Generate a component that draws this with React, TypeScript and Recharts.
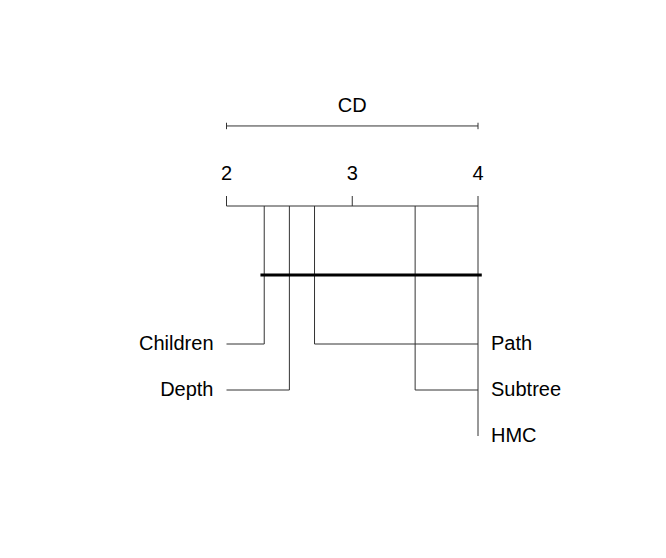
import { ComposedChart, ReferenceLine, XAxis, YAxis } from "recharts";

// average ranks of each method (critical difference diagram)
const methods = ["Children", "Depth", "Path", "Subtree", "HMC"];
const avgRanks = [2.3, 2.5, 2.7, 3.5, 4.0];
const sides = ["left", "left", "right", "right", "right"];
const rows = [1, 2, 1, 2, 3];
const rankTicks = [2, 3, 4];
const cdValue = 2.0;
// groups of methods that are not significantly different (index ranges)
const cliques = [[0, 4]];

const LINE = "#333";
const FONT = 20;
const CD_ROW = -1.74;

export default function App() {
  const lo = rankTicks[0];
  const hi = rankTicks[rankTicks.length - 1];

  return (
    <div style={{ fontFamily: '"Liberation Sans", Arial, sans-serif' }}>
      <ComposedChart
        width={650}
        height={540}
        data={[]}
        margin={{ top: 158, right: 180, bottom: 112, left: 218.5 }}
      >
        <XAxis
          type="number"
          dataKey="x"
          orientation="top"
          domain={[lo, hi]}
          ticks={rankTicks}
          interval={0}
          allowDataOverflow
          height={40}
          tickSize={10}
          tickMargin={16}
          stroke={LINE}
          tick={{ fill: "#000", fontSize: FONT }}
        />
        <YAxis type="number" dataKey="y" domain={[0, 5]} reversed hide width={0} allowDataOverflow />

        {/* CD bar */}
        <ReferenceLine
          segment={[
            { x: lo, y: CD_ROW },
            { x: lo + cdValue, y: CD_ROW },
          ]}
          stroke={LINE}
          ifOverflow="visible"
          label={{ value: "CD", position: "top", offset: 14, fill: "#000", fontSize: FONT }}
        />
        {[lo, lo + cdValue].map((x) => (
          <ReferenceLine
            key={"cdtick" + x}
            segment={[
              { x, y: CD_ROW - 0.07 },
              { x, y: CD_ROW + 0.07 },
            ]}
            stroke={LINE}
            ifOverflow="visible"
          />
        ))}

        {/* vertical connectors from axis */}
        {avgRanks.map((r, i) => (
          <ReferenceLine
            key={"v" + i}
            segment={[
              { x: r, y: 0 },
              { x: r, y: rows[i] + 2 },
            ]}
            stroke={LINE}
            ifOverflow="visible"
          />
        ))}

        {/* horizontal connectors with labels */}
        {avgRanks.map((r, i) => {
          const left = sides[i] === "left";
          const y = rows[i] + 2;
          return (
            <ReferenceLine
              key={"h" + i}
              segment={[
                { x: left ? lo : r, y },
                { x: left ? r : hi, y },
              ]}
              stroke={LINE}
              ifOverflow="visible"
              label={{
                value: methods[i],
                position: left ? "left" : "right",
                offset: 13,
                fill: "#000",
                fontSize: FONT,
                dy: -1,
              }}
            />
          );
        })}

        {/* clique bars */}
        {cliques.map(([a, b], i) => (
          <ReferenceLine
            key={"c" + i}
            segment={[
              { x: avgRanks[a] - 0.03, y: 1.5 },
              { x: avgRanks[b] + 0.03, y: 1.5 },
            ]}
            stroke="#000"
            strokeWidth={3}
            ifOverflow="visible"
          />
        ))}
      </ComposedChart>
    </div>
  );
}
